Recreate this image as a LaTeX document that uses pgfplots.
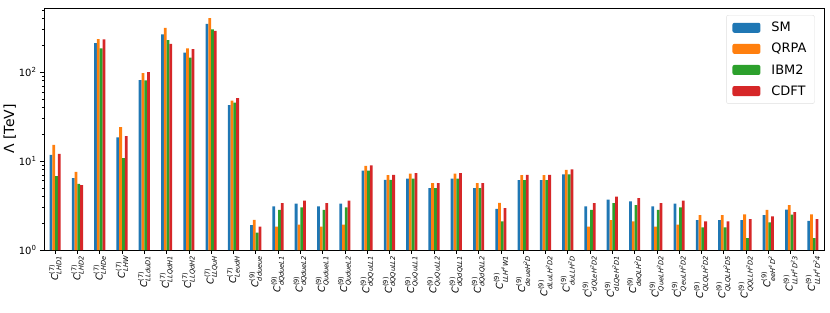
\documentclass[border=0pt]{standalone}
\usepackage{pgfplots}
\usepackage{pgfplotstable}
\usepackage{amsmath}
\usepackage{fontspec}
\setmainfont{DejaVu Sans}
\pgfplotsset{compat=1.18}
\definecolor{cA}{HTML}{1F77B4}
\definecolor{cB}{HTML}{FF7F0E}
\definecolor{cC}{HTML}{2CA02C}
\definecolor{cD}{HTML}{D62728}
\newcommand{\lab}[2]{\textit{C}$^{\text{(#1)}}_{\text{\itshape #2}}$}
\newcommand{\su}[1]{\textsuperscript{#1}}
\pgfplotstableread{
x sm qrpa ibm cdft
0 11.7 15.2 6.75 12.0
1 6.41 7.55 5.53 5.35
2 212 235 185 233
3 18.5 24.0 10.8 19.0
4 81.3 97.5 80.5 100
5 265 313 229 208
6 165 185 145 181
7 347 405 302 290
8 42.5 47.6 45.2 51.0
9 1.90 2.18 1.57 1.83
10 3.10 1.83 2.82 3.36
11 3.33 1.93 3.02 3.59
12 3.10 1.83 2.82 3.36
13 3.33 1.93 3.02 3.59
14 7.82 8.83 7.82 8.91
15 6.14 6.93 6.14 7.00
16 6.35 7.24 6.35 7.30
17 4.95 5.64 4.95 5.64
18 6.35 7.24 6.35 7.30
19 4.95 5.64 4.95 5.64
20 2.90 3.38 2.10 2.95
21 6.09 6.93 6.09 7.00
22 6.09 6.93 6.09 7.00
23 7.06 7.96 7.06 8.04
24 3.10 1.83 2.82 3.36
25 3.69 2.16 3.36 3.99
26 3.53 2.10 3.19 3.82
27 3.10 1.83 2.82 3.36
28 3.33 1.93 3.02 3.59
29 2.16 2.46 1.80 2.10
30 2.16 2.46 1.80 2.10
31 2.16 2.52 1.36 2.22
32 2.46 2.82 2.05 2.39
33 2.85 3.19 2.50 2.66
34 2.12 2.52 1.36 2.22
}\datatable
\begin{document}
\begin{tikzpicture}[x=1bp,y=1bp]
\begin{axis}[
  at={(0,0)}, anchor=south west,
  scale only axis, width=780bp, height=242bp,
  ymode=log, ymin=1, ymax=525,
  xmin=-0.5, xmax=34.5,
  log origin=0,
  ytick={1,10,100},
  yticklabels={10\su{0},10\su{1},10\su{2}},
  minor ytick={2,3,4,5,6,7,8,9,20,30,40,50,60,70,80,90,200,300,400,500},
  xtick={0,...,34},
  xticklabels={
    {\lab{7}{LHD1}},{\lab{7}{LHD2}},{\lab{7}{LHDe}},{\lab{7}{LHW}},
    {\lab{7}{LLduD1}},{\lab{7}{LLQdH1}},{\lab{7}{LLQdH2}},{\lab{7}{LLQuH}},
    {\lab{7}{LeudH}},{\lab{9}{ddueue}},{\lab{9}{dQdueL1}},{\lab{9}{dQdueL2}},
    {\lab{9}{QudueL1}},{\lab{9}{QudueL2}},{\lab{9}{dQQuLL1}},{\lab{9}{dQQuLL2}},
    {\lab{9}{QuQuLL1}},{\lab{9}{QuQuLL2}},{\lab{9}{dQdQLL1}},{\lab{9}{dQdQLL2}},
    {\lab{9}{LLH\su{4}W1}},{\lab{9}{deueH\su{2}D}},{\lab{9}{dLuLH\su{2}D2}},
    {\lab{9}{duLLH\su{2}D}},{\lab{9}{dQLeH\su{2}D2}},{\lab{9}{dLQeH\su{2}D1}},
    {\lab{9}{deQLH\su{2}D}},{\lab{9}{QueLH\su{2}D2}},{\lab{9}{QeuLH\su{2}D2}},
    {\lab{9}{QLQLH\su{2}D2}},{\lab{9}{QLQLH\su{2}D5}},{\lab{9}{QQLLH\su{2}D2}},
    {\lab{9}{eeH\su{4}D\su{2}}},{\lab{9}{LLH\su{4}D\su{2}3}},{\lab{9}{LLH\su{4}D\su{2}4}}
  },
  x tick label style={rotate=90, anchor=east, font=\fontsize{9.5}{11}\selectfont, inner sep=1.5bp},
  y tick label style={font=\fontsize{10}{12}\selectfont},
  ylabel={Λ [TeV]},
  ylabel style={font=\fontsize{14}{16}\selectfont, yshift=-4bp},
  tick align=outside,
  major tick length=4bp, minor tick length=2bp,
  tick style={black, line width=0.6bp},
  xtick pos=bottom, ytick pos=left,
  axis line style={line width=0.8bp},
  legend style={at={(0.988,0.971)}, anchor=north east, draw=gray!25, rounded corners=2bp,
    font=\fontsize{13}{15}\selectfont, row sep=6bp, column sep=9bp, inner xsep=6bp, inner ysep=5bp},
  legend cell align=left,
  legend image code/.code={\fill[#1] (0bp,-5bp) rectangle (28bp,5bp);},
]
\addplot[ybar, bar width=0.125, bar shift=-0.1875, fill=cA, draw=none] table[x=x,y=sm] {\datatable};
\addplot[ybar, bar width=0.125, bar shift=-0.0625, fill=cB, draw=none] table[x=x,y=qrpa] {\datatable};
\addplot[ybar, bar width=0.125, bar shift=0.0625, fill=cC, draw=none] table[x=x,y=ibm] {\datatable};
\addplot[ybar, bar width=0.125, bar shift=0.1875, fill=cD, draw=none] table[x=x,y=cdft] {\datatable};
\legend{SM,QRPA,IBM2,CDFT}
\end{axis}
\pgfresetboundingbox
\path[use as bounding box] (-44,-62) rectangle (786,250);
\end{tikzpicture}
\end{document}
